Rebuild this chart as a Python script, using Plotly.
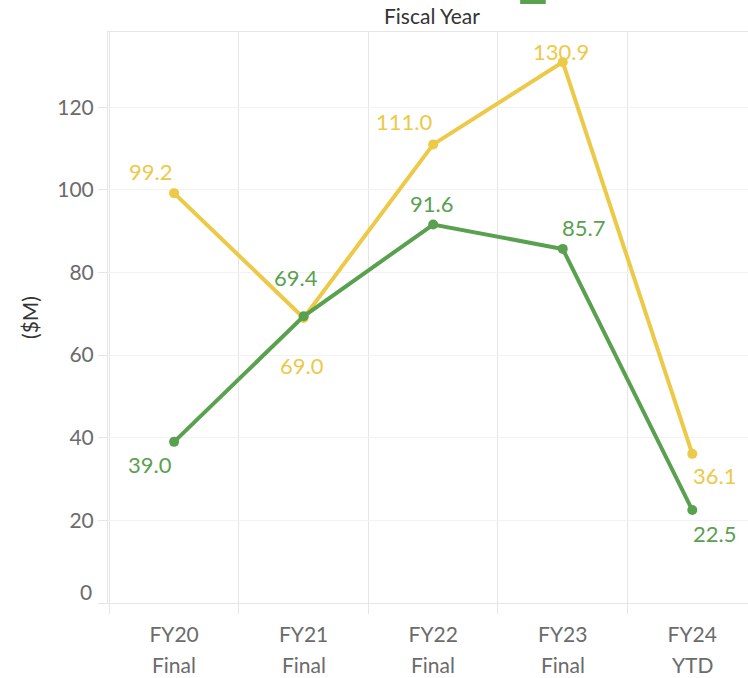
import plotly.graph_objects as go

years = ["FY20", "FY21", "FY22", "FY23", "FY24"]
status = ["Final", "Final", "Final", "Final", "YTD"]
green_vals = [39.0, 69.4, 91.6, 85.7, 22.5]
yellow_vals = [99.2, 69.0, 111.0, 130.9, 36.1]
y_ticks = [0, 20, 40, 60, 80, 100, 120]

GREEN = "#59a14f"
YELLOW = "#edc948"
FONT = "Lato"

# label offsets in px (dx, dy) relative to each point, screen coords (dy down)
green_off = [(-24, 23), (-8, -39), (-2, -21), (21, -21), (22, 23)]
yellow_off = [(-24, -22), (-2, 48), (-29, -23), (-2, -11), (22, 22)]

x = list(range(len(years)))

fig = go.Figure()
fig.add_trace(go.Scatter(x=x, y=yellow_vals, mode="lines+markers",
                         line=dict(color=YELLOW, width=4),
                         marker=dict(color=YELLOW, size=10),
                         showlegend=False, hoverinfo="skip"))
fig.add_trace(go.Scatter(x=x, y=green_vals, mode="lines+markers",
                         line=dict(color=GREEN, width=4),
                         marker=dict(color=GREEN, size=10),
                         showlegend=False, hoverinfo="skip"))

annots = []
for vals, offs, col in [(green_vals, green_off, GREEN), (yellow_vals, yellow_off, YELLOW)]:
    for i, v in enumerate(vals):
        annots.append(dict(x=i, y=v, xref="x", yref="y", text=f"{v:.1f}",
                           showarrow=False, xshift=offs[i][0], yshift=-offs[i][1],
                           font=dict(family=FONT, size=22, color=col)))

# second row of the x labels
for i, s in enumerate(status):
    annots.append(dict(x=i, y=0, xref="x", yref="paper", text=s, showarrow=False,
                       yshift=-61, yanchor="middle",
                       font=dict(family=FONT, size=21, color="#6b6b6b")))

# zero label sits a bit higher, like tableau does at the pane edge
annots.append(dict(x=0, y=0, xref="paper", yref="y", text="0", showarrow=False,
                   xanchor="right", xshift=-14, yshift=12, yanchor="middle",
                   font=dict(family=FONT, size=21, color="#6b6b6b")))

annots.append(dict(x=0.5, y=1, xref="paper", yref="paper", text="Fiscal Year",
                   showarrow=False, yanchor="middle", yshift=17, xshift=4,
                   font=dict(family=FONT, size=21, color="#333333")))

fig.update_layout(
    width=748, height=678,
    margin=dict(l=108, r=0, t=32, b=75),
    plot_bgcolor="white", paper_bgcolor="white",
    annotations=annots,
    shapes=[dict(type="rect", xref="paper", yref="paper",
                 x0=0.644, x1=0.684, y0=1.049, y1=1.07,
                 fillcolor=GREEN, line=dict(width=0))],
    xaxis=dict(range=[-0.51, 4.43], tickmode="array", tickvals=x, ticktext=years,
               showgrid=False, zeroline=False, ticks="", ticklabelstandoff=13,
               showline=True, linecolor="#e6e6e6", linewidth=1, mirror=True,
               tickfont=dict(family=FONT, size=21, color="#6b6b6b"),
               minor=dict(tick0=-0.5, dtick=1, showgrid=True, gridcolor="#e6e6e6",
                          gridwidth=1, ticks="outside", ticklen=10, tickcolor="#e6e6e6")),
    yaxis=dict(range=[0, 138.2], tickmode="array", tickvals=y_ticks,
               ticktext=[""] + [str(t) for t in y_ticks[1:]],
               showgrid=True, gridcolor="#f2f2f2", zeroline=False,
               showline=True, linecolor="#e6e6e6", linewidth=1,
               ticks="outside", ticklen=9, tickcolor="#e6e6e6",
               tickfont=dict(family=FONT, size=21, color="#6b6b6b"),
               title=dict(text="($M)", standoff=12,
                          font=dict(family=FONT, size=21, color="#333333"))),
)

# drop the default 8px page margin so the figure fills the window
fig.write_html("out.html", config={"displayModeBar": False},
               post_script="document.body.style.margin='0';")
